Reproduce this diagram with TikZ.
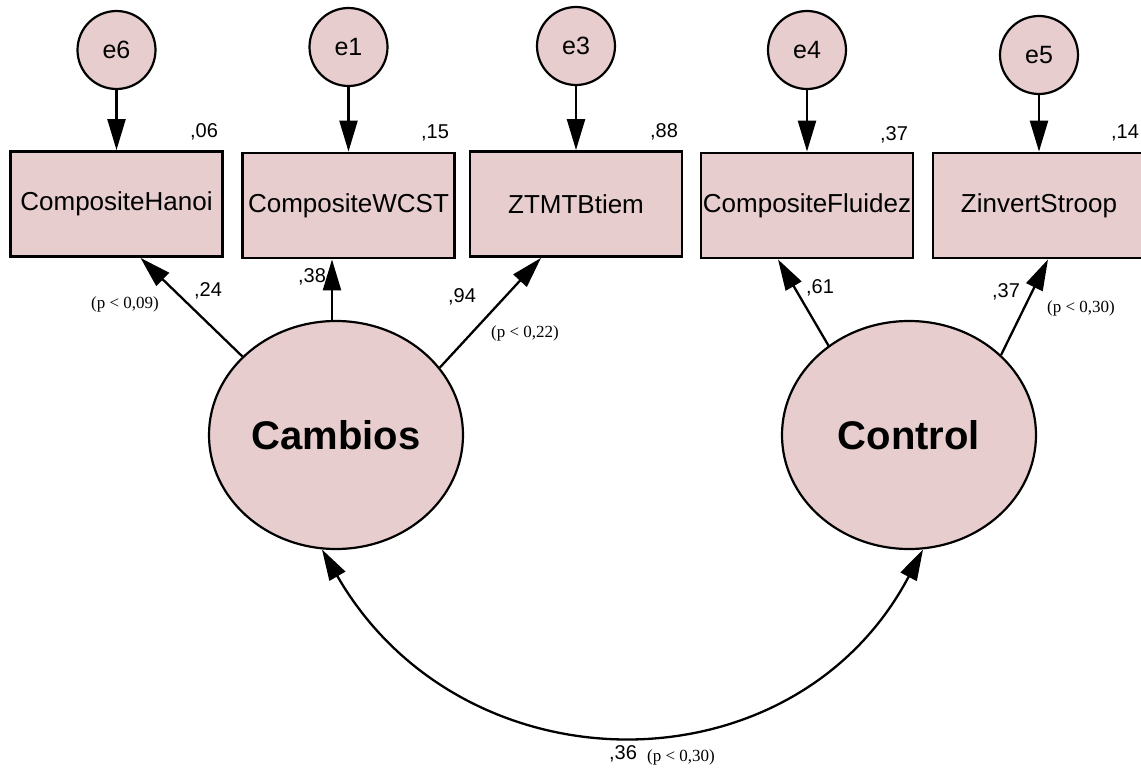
\documentclass[tikz,border=0pt]{standalone}
\usepackage{fontspec}
\setmainfont{Liberation Sans}
\newfontfamily\pfont{Liberation Serif}
\usetikzlibrary{arrows.meta,shapes.geometric}
\definecolor{semfill}{RGB}{231,205,205}
\begin{document}
\begin{tikzpicture}[x=1pt,y=-1pt,
  errvar/.style={circle,draw,line width=2.2pt,fill=semfill,minimum size=78pt,inner sep=0pt,
    font=\fontsize{25}{30}\selectfont},
  obsvar/.style={rectangle,draw,line width=2.8pt,fill=semfill,minimum width=212pt,
    minimum height=105pt,inner sep=0pt,font=\fontsize{26}{30}\selectfont},
  latvar/.style={ellipse,draw,line width=2.2pt,fill=semfill,minimum width=254pt,
    minimum height=228pt,inner sep=0pt,font=\bfseries\fontsize{40}{46}\selectfont},
  coef/.style={font=\fontsize{20}{24}\selectfont,inner sep=0pt},
  pval/.style={font=\pfont\fontsize{17}{20}\selectfont,inner sep=0pt},
  regpath/.style={line width=2.3pt,-{Triangle[length=31pt,width=18pt]}},
  covpath/.style={line width=2.3pt,{Triangle[length=31pt,width=18pt]}-{Triangle[length=31pt,width=18pt]}},
]
\useasboundingbox (0,0) rectangle (1141,768);

% observed indicators
\node[obsvar] (hanoi)  at (116.5,204)   {CompositeHanoi};
\node[obsvar] (wcst)   at (348.5,205.5) {CompositeWCST};
\node[obsvar] (ztmt)   at (576,204)     {ZTMTBtiem};
\node[obsvar] (fluid)  at (807,205.5)   {CompositeFluidez};
\node[obsvar] (stroop) at (1039,205.5)  {ZinvertStroop};

% error terms, each centred over its indicator
\node[errvar] (e6) at (hanoi |- 0,50)  {e6};
\node[errvar] (e1) at (wcst |- 0,47)   {e1};
\node[errvar] (e3) at (ztmt |- 0,46)   {e3};
\node[errvar] (e4) at (fluid |- 0,50)  {e4};
\node[errvar] (e5) at (stroop |- 0,55) {e5};

% latent factors
\node[latvar] (cam) at (336,435) {Cambios};
\node[latvar] (ctl) at (909,435) {Control};

% error paths
\draw[regpath] (e6) -- (hanoi);
\draw[regpath] (e1) -- (wcst);
\draw[regpath] (e3) -- (ztmt);
\draw[regpath] (e4) -- (fluid);
\draw[regpath] (e5) -- (stroop);

% factor loadings
\draw[regpath] (cam.140) -- ([xshift=24pt]hanoi.south);
\draw[regpath] (cam.92.5) -- (cam.92.5 |- wcst.south);
\draw[regpath] (cam.33) -- ([xshift=-35pt]ztmt.south);
\draw[regpath] (ctl.132.4) -- ([xshift=-29pt]fluid.south);
\draw[regpath] (ctl.41.4) -- ([xshift=9pt]stroop.south);

% factor covariance
\draw[covpath] (cam.263) .. controls (463,794) and (794,794) .. (ctl.277);

% squared multiple correlations
\node[coef] (r6) at (204,132) {,06};
\node[coef] (r1) at (435,133) {,15};
\node[coef] (r3) at (664,132) {,88};
\node[coef] (r4) at (894,135) {,37};
\node[coef] (r5) at (1125,133) {,14};

% standardized loadings and p-values
\node[coef] (l1) at (208,291) {,24};
\node[pval] (p1) at (125,304) {(p < 0,09)};
\node[coef] (l2) at (312,277) {,38};
\node[coef] (l3) at (462,297) {,94};
\node[pval] (p3) at (525,333) {(p < 0,22)};
\node[coef] (l4) at (820,288) {,61};
\node[coef] (l5) at (1006,292) {,37};
\node[pval] (p5) at (1081,308) {(p < 0,30)};

% covariance estimate
\node[coef] (c1) at (623,754) {,36};
\node[pval] (pc) at (681,757) {(p < 0,30)};
\end{tikzpicture}
\end{document}
